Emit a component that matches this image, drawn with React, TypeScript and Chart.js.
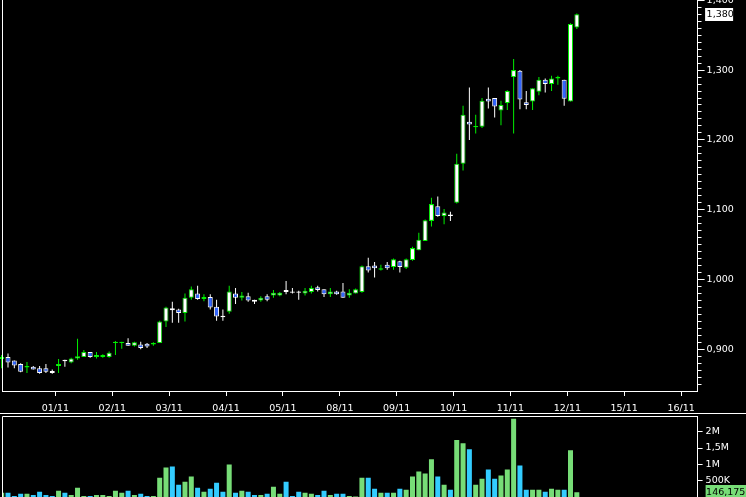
import React, { useEffect, useRef } from 'react';
import { Chart, registerables } from 'chart.js';

Chart.register(...registerables);

// ---- Data (hourly candles, 9 per session) ----
const opens = [
  0.886, 0.889, 0.884, 0.879, 0.874, 0.875, 0.873, 0.873, 0.869,
  0.876, 0.885, 0.881, 0.887, 0.889, 0.896, 0.889, 0.889, 0.889,
  0.909, 0.909, 0.909, 0.905, 0.907, 0.908, 0.907, 0.909, 0.940,
  0.959, 0.957, 0.952, 0.974, 0.980, 0.972, 0.975, 0.961, 0.948,
  0.954, 0.980, 0.974, 0.976, 0.971, 0.970, 0.976, 0.977, 0.977,
  0.985, 0.983, 0.983, 0.980, 0.982, 0.989, 0.986, 0.979, 0.983,
  0.983, 0.977, 0.980, 0.982, 1.019, 1.020, 1.014, 1.021, 1.018,
  1.026, 1.017, 1.028, 1.042, 1.055, 1.084, 1.105, 1.091, 1.093,
  1.110, 1.166, 1.226, 1.218, 1.219, 1.259, 1.260, 1.242, 1.253,
  1.290, 1.299, 1.254, 1.255, 1.269, 1.286, 1.280, 1.288, 1.286,
  1.255, 1.361,
];
const highs = [
  0.892, 0.894, 0.884, 0.880, 0.882, 0.876, 0.876, 0.879, 0.871,
  0.886, 0.885, 0.888, 0.915, 0.899, 0.896, 0.896, 0.893, 0.897,
  0.912, 0.911, 0.916, 0.911, 0.911, 0.909, 0.910, 0.941, 0.961,
  0.968, 0.958, 0.980, 0.990, 0.991, 0.979, 0.979, 0.971, 0.957,
  0.991, 0.988, 0.982, 0.981, 0.971, 0.976, 0.979, 0.985, 0.982,
  0.998, 0.988, 0.984, 0.988, 0.991, 0.991, 0.986, 0.988, 0.984,
  0.995, 0.986, 0.987, 1.020, 1.031, 1.025, 1.021, 1.025, 1.030,
  1.027, 1.030, 1.047, 1.067, 1.086, 1.117, 1.119, 1.101, 1.097,
  1.180, 1.249, 1.275, 1.236, 1.260, 1.275, 1.260, 1.256, 1.271,
  1.316, 1.300, 1.270, 1.274, 1.290, 1.288, 1.292, 1.292, 1.286,
  1.367, 1.381,
];
const lows = [
  0.873, 0.874, 0.873, 0.867, 0.866, 0.871, 0.865, 0.866, 0.865,
  0.866, 0.875, 0.880, 0.885, 0.889, 0.888, 0.887, 0.888, 0.888,
  0.892, 0.901, 0.905, 0.904, 0.900, 0.902, 0.905, 0.909, 0.932,
  0.938, 0.938, 0.940, 0.971, 0.971, 0.969, 0.957, 0.941, 0.941,
  0.951, 0.965, 0.970, 0.968, 0.965, 0.968, 0.969, 0.974, 0.976,
  0.979, 0.980, 0.971, 0.977, 0.980, 0.983, 0.975, 0.975, 0.978,
  0.974, 0.974, 0.980, 0.981, 1.010, 1.003, 1.013, 1.014, 1.014,
  1.010, 1.015, 1.027, 1.042, 1.055, 1.076, 1.090, 1.079, 1.084,
  1.109, 1.156, 1.200, 1.209, 1.217, 1.245, 1.232, 1.221, 1.243,
  1.209, 1.244, 1.244, 1.243, 1.264, 1.268, 1.270, 1.279, 1.249,
  1.255, 1.359,
];
const closes = [
  0.889, 0.881, 0.877, 0.868, 0.876, 0.871, 0.866, 0.868, 0.866,
  0.879, 0.883, 0.887, 0.890, 0.896, 0.889, 0.892, 0.892, 0.895,
  0.911, 0.911, 0.905, 0.910, 0.902, 0.904, 0.909, 0.940, 0.960,
  0.956, 0.952, 0.974, 0.986, 0.972, 0.975, 0.960, 0.947, 0.946,
  0.983, 0.974, 0.977, 0.970, 0.968, 0.974, 0.971, 0.981, 0.981,
  0.982, 0.981, 0.981, 0.984, 0.988, 0.985, 0.979, 0.983, 0.979,
  0.974, 0.981, 0.986, 1.019, 1.013, 1.016, 1.016, 1.016, 1.029,
  1.018, 1.029, 1.045, 1.057, 1.085, 1.108, 1.091, 1.096, 1.091,
  1.166, 1.236, 1.222, 1.220, 1.256, 1.255, 1.248, 1.250, 1.270,
  1.300, 1.258, 1.250, 1.274, 1.286, 1.280, 1.288, 1.290, 1.259,
  1.366, 1.380,
];
const volumes = [
  127000, 127000, 30000, 96000, 96000, 65000, 158000, 65000, 34000,
  189000, 127000, 65000, 283000, 34000, 34000, 65000, 65000, 34000,
  189000, 127000, 189000, 65000, 96000, 34000, 34000, 593000, 904000,
  935000, 376000, 469000, 624000, 283000, 158000, 252000, 438000, 158000,
  997000, 127000, 189000, 158000, 65000, 65000, 96000, 314000, 96000,
  469000, 34000, 158000, 127000, 96000, 65000, 189000, 65000, 96000,
  96000, 34000, 15000, 593000, 593000, 252000, 127000, 127000, 127000,
  252000, 220000, 624000, 780000, 717000, 1152000, 624000, 376000, 220000,
  1742000, 1649000, 1463000, 376000, 562000, 842000, 562000, 655000, 842000,
  2394000, 966000, 220000, 220000, 220000, 158000, 252000, 220000, 220000,
  1432000, 146175,
];
const dayLabels = ['01/11', '02/11', '03/11', '04/11', '05/11', '08/11', '09/11', '10/11', '11/11', '12/11', '15/11', '16/11'];
const candlesPerDay = 9;
const firstDayStart = 9; // index of first candle of 01/11
const volumeTicks = [500000, 1000000, 1500000, 2000000];

// ---- Style ----
const UP = '#00ee00';
const DOWN_FILL = '#3366ff';
const WHITE = '#ffffff';
const VOL_UP = '#77dd77';
const VOL_DOWN = '#33ccff';
const FONT = { family: 'DejaVu Sans', size: 9.5 };
const X_MIN = 0.05;
const X_MAX = 110.11;
const AXIS_W = 48.4;

const idx = opens.map((_, i) => i);
const isUp = (i: number) => closes[i] >= opens[i];
const dayTicks = dayLabels.map((_, k) => firstDayStart - 0.5 + k * candlesPerDay);

const fmtPrice = (v: number) => v.toFixed(3).replace('.', ',');
const fmtVol = (v: number) => {
  if (v >= 1000000) return String(v / 1000000).replace('.', ',') + 'M';
  return String(v / 1000) + 'K';
};
const fmtInt = (v: number) => Math.round(v).toString().replace(/\B(?=(\d{3})+(?!\d))/g, ',');

export default function App() {
  const priceRef = useRef<HTMLCanvasElement | null>(null);
  const volRef = useRef<HTMLCanvasElement | null>(null);

  useEffect(() => {
    document.body.style.margin = '0';
    document.body.style.background = '#000';
    Chart.defaults.font.family = FONT.family;

    const pricePlugin = {
      id: 'priceFrame',
      afterDraw(chart: any) {
        const { ctx, chartArea } = chart;
        ctx.save();
        ctx.strokeStyle = WHITE;
        ctx.lineWidth = 1;
        ctx.beginPath();
        ctx.moveTo(Math.floor(chartArea.left) + 0.5, 0);
        ctx.lineTo(Math.floor(chartArea.left) + 0.5, chartArea.bottom);
        ctx.stroke();
        const last = closes[closes.length - 1];
        const y = chart.scales.y.getPixelForValue(last);
        const x0 = chartArea.right + 7.5;
        ctx.fillStyle = WHITE;
        ctx.fillRect(x0, Math.round(y - 6.5), 28, 13);
        ctx.fillStyle = '#000';
        ctx.font = `${FONT.size}px ${FONT.family}`;
        ctx.textBaseline = 'middle';
        ctx.textAlign = 'left';
        ctx.fillText(fmtPrice(last), x0 + 1.5, y + 0.5);
        ctx.restore();
      },
    };

    const priceChart = new Chart(priceRef.current!, {
      type: 'bar',
      data: {
        datasets: [
          {
            label: 'body',
            data: idx.map((i) => ({ x: i, y: [opens[i], closes[i]] })) as any,
            backgroundColor: idx.map((i) => (isUp(i) ? WHITE : DOWN_FILL)),
            borderColor: idx.map((i) => (isUp(i) ? UP : WHITE)),
            borderWidth: 1,
            borderSkipped: false,
            barThickness: 5,
            grouped: false,
            inflateAmount: 0,
            order: 0,
            clip: false as any,
          },
          {
            label: 'wick',
            data: idx.map((i) => ({ x: i, y: [lows[i], highs[i]] })) as any,
            backgroundColor: idx.map((i) => (isUp(i) ? UP : WHITE)),
            borderWidth: 0,
            barThickness: 1,
            grouped: false,
            inflateAmount: 0,
            order: 1,
            clip: false as any,
          },
        ],
      },
      options: {
        animation: false,
        responsive: false,
        events: [],
        layout: { padding: { left: 2, top: 0, right: 0, bottom: 0 } },
        plugins: { legend: { display: false }, tooltip: { enabled: false } },
        scales: {
          x: {
            type: 'linear',
            min: X_MIN,
            max: X_MAX,
            offset: false,
            afterBuildTicks: (s: any) => {
              s.ticks = dayTicks.map((v) => ({ value: v }));
            },
            afterFit: (s: any) => {
              s.height = 22;
              s.paddingLeft = 0;
              s.paddingRight = 0;
            },
            ticks: {
              autoSkip: false,
              maxRotation: 0,
              color: WHITE,
              font: FONT,
              padding: 7,
              callback: (_v: any, i: number) => dayLabels[i],
            },
            grid: { display: true, drawOnChartArea: false, tickLength: 5, color: WHITE, tickColor: WHITE, offset: false },
            border: { display: true, color: WHITE, width: 1 },
          },
          y: {
            type: 'linear',
            position: 'right',
            min: 0.8403,
            max: 1.4004,
            afterBuildTicks: (s: any) => {
              const t: any[] = [];
              for (let k = 85; k <= 140; k++) t.push({ value: k / 100 });
              s.ticks = t;
            },
            afterFit: (s: any) => {
              s.width = AXIS_W;
              s.paddingTop = 0;
              s.paddingBottom = 0;
            },
            ticks: {
              autoSkip: false,
              color: WHITE,
              font: FONT,
              padding: 2,
              callback: (v: any) => (Math.round(v * 100) % 10 === 0 ? fmtPrice(v) : ''),
            },
            grid: {
              display: true,
              drawOnChartArea: false,
              tickLength: 7,
              color: WHITE,
              tickColor: WHITE,
              tickBorderDash: (ctx: any) =>
                ctx.tick && Math.round(ctx.tick.value * 100) % 10 === 0 ? [] : [3.5, 100],
            } as any,
            border: { display: true, color: WHITE, width: 1 },
          },
        },
      } as any,
      plugins: [pricePlugin],
    });

    const volPlugin = {
      id: 'volFrame',
      afterDraw(chart: any) {
        const { ctx, chartArea, width } = chart;
        ctx.save();
        ctx.strokeStyle = WHITE;
        ctx.lineWidth = 1;
        ctx.beginPath();
        ctx.moveTo(0, 0.5);
        ctx.lineTo(width, 0.5);
        const top = Math.floor(chartArea.top) + 0.5;
        const left = Math.floor(chartArea.left) + 0.5;
        ctx.moveTo(left, top);
        ctx.lineTo(chartArea.right, top);
        ctx.moveTo(left, top);
        ctx.lineTo(left, chart.height);
        ctx.stroke();
        const last = volumes[volumes.length - 1];
        const y = chart.scales.y.getPixelForValue(last);
        const x0 = chartArea.right + 8;
        ctx.fillStyle = VOL_UP;
        ctx.fillRect(x0, Math.round(y - 7), width - x0, 14);
        ctx.fillStyle = '#000';
        ctx.font = `${FONT.size}px ${FONT.family}`;
        ctx.textBaseline = 'middle';
        ctx.textAlign = 'left';
        ctx.fillText(fmtInt(last), x0 + 0.5, y + 0.5);
        ctx.restore();
      },
    };

    const volChart = new Chart(volRef.current!, {
      type: 'bar',
      data: {
        datasets: [
          {
            label: 'volume',
            data: idx.map((i) => ({ x: i, y: volumes[i] })) as any,
            backgroundColor: idx.map((i) => (isUp(i) ? VOL_UP : VOL_DOWN)),
            borderWidth: 0,
            barThickness: 5,
            grouped: false,
            inflateAmount: 0,
          },
        ],
      },
      options: {
        animation: false,
        responsive: false,
        events: [],
        layout: { padding: { left: 2, top: 3, right: 0, bottom: 0 } },
        plugins: { legend: { display: false }, tooltip: { enabled: false } },
        scales: {
          x: { type: 'linear', min: X_MIN, max: X_MAX, offset: false, display: false },
          y: {
            type: 'linear',
            position: 'right',
            min: 0,
            max: 2480000,
            afterBuildTicks: (s: any) => {
              s.ticks = volumeTicks.map((v) => ({ value: v }));
            },
            afterFit: (s: any) => {
              s.width = AXIS_W;
              s.paddingTop = 0;
              s.paddingBottom = 0;
            },
            ticks: {
              autoSkip: false,
              color: WHITE,
              font: FONT,
              padding: 3,
              callback: (v: any) => fmtVol(v),
            },
            grid: { display: true, drawOnChartArea: false, tickLength: 5, color: WHITE, tickColor: WHITE },
            border: { display: true, color: WHITE, width: 1 },
          },
        },
      } as any,
      plugins: [volPlugin],
    });

    return () => {
      priceChart.destroy();
      volChart.destroy();
    };
  }, []);

  return (
    <div style={{ position: 'fixed', left: 0, top: 0, width: 746, height: 497, background: '#000' }}>
      <canvas ref={priceRef} width={746} height={413} style={{ display: 'block', width: 746, height: 413 }} />
      <canvas ref={volRef} width={746} height={84} style={{ display: 'block', width: 746, height: 84 }} />
    </div>
  );
}
